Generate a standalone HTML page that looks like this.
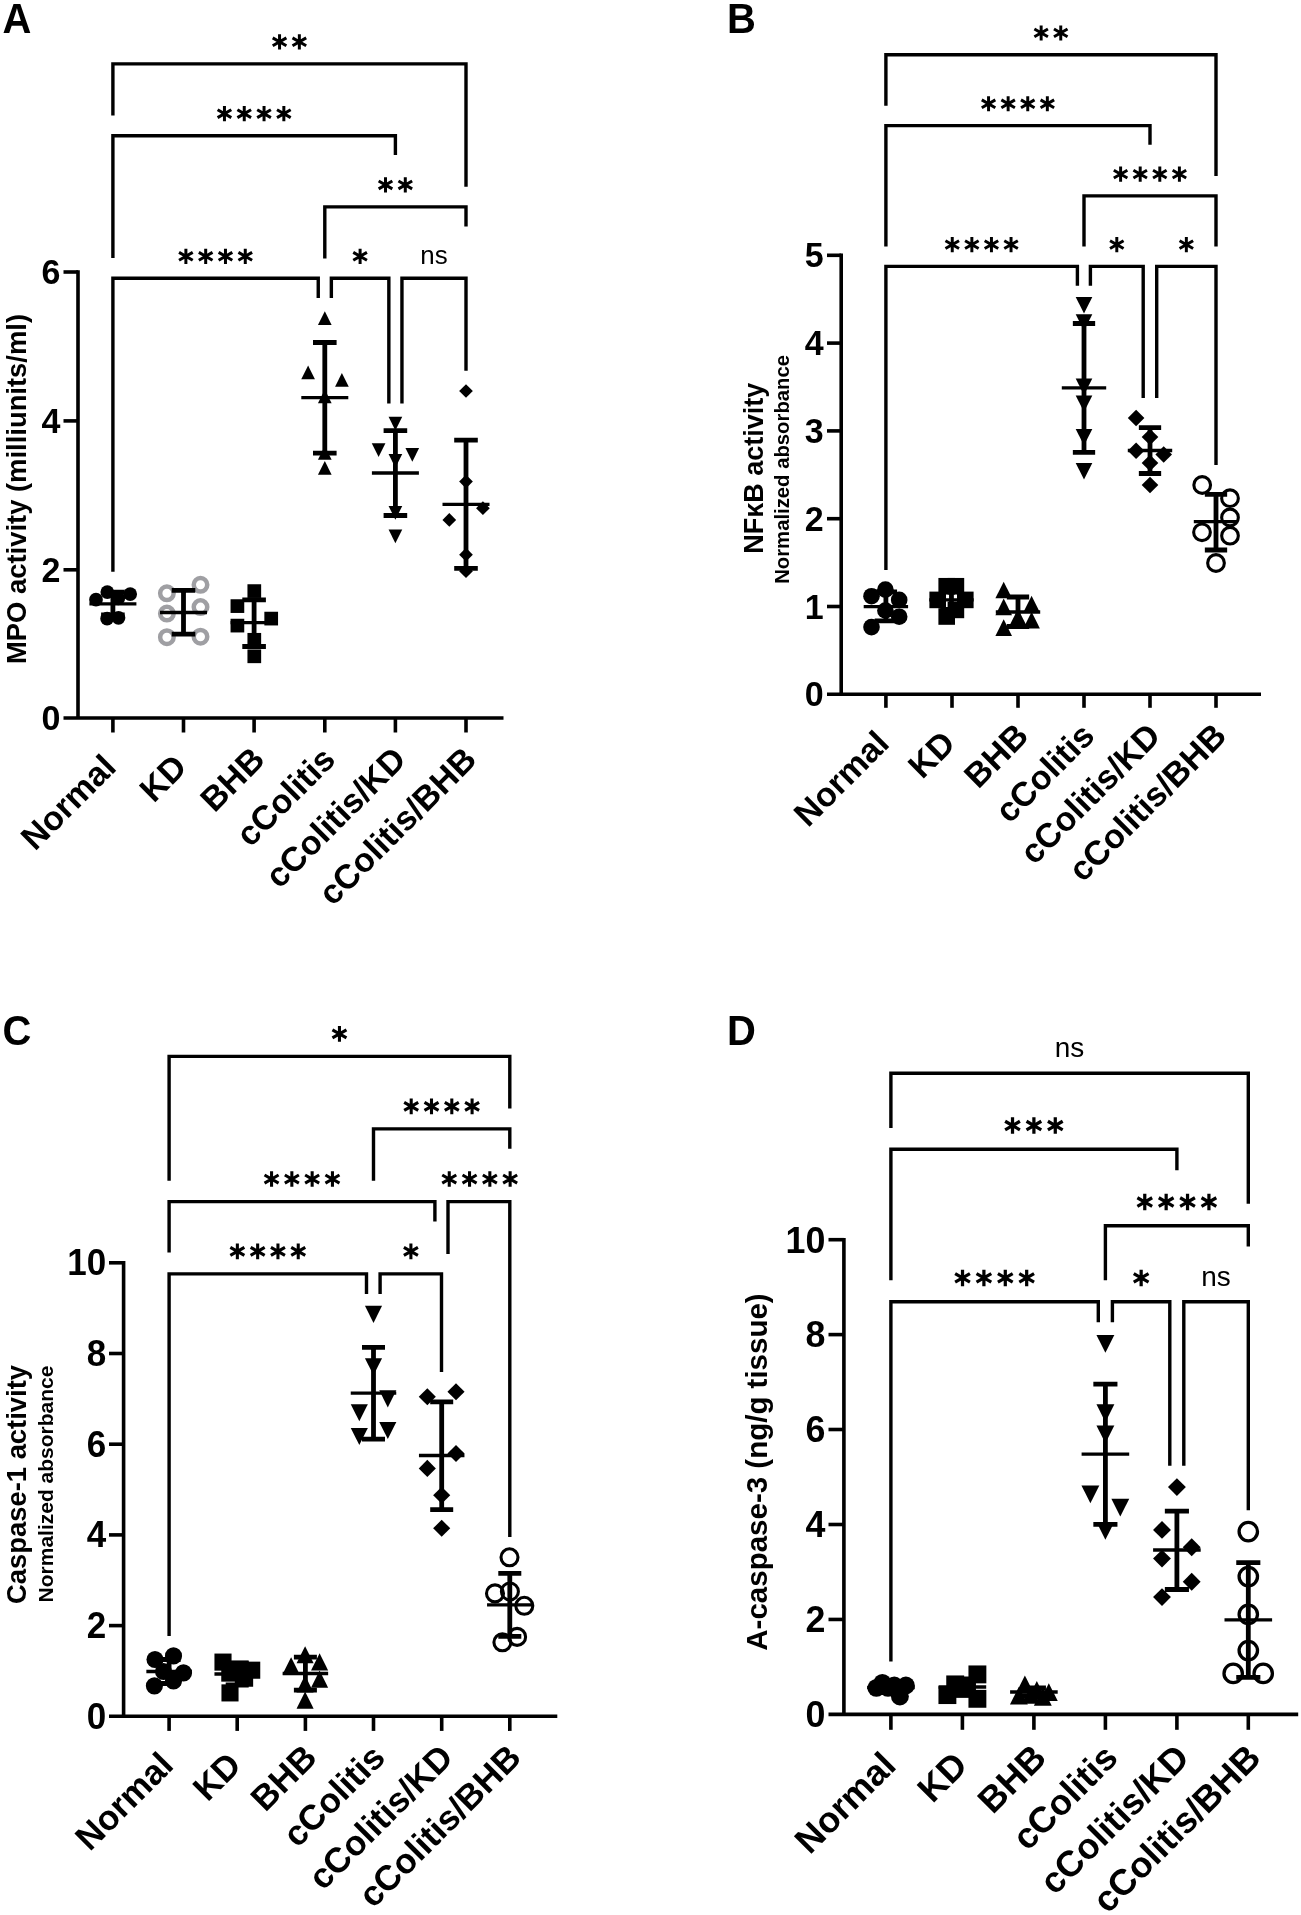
<!DOCTYPE html>
<html><head><meta charset="utf-8"><title>Figure</title>
<style>
html,body{margin:0;padding:0;background:#fff;}
body{width:1301px;height:1915px;overflow:hidden;font-family:"Liberation Sans",sans-serif;}
svg{display:block;font-family:"Liberation Sans",sans-serif;}
svg text{fill:#000;}
svg{will-change:transform;}
</style></head><body>
<svg width="1301" height="1915" viewBox="0 0 1301 1915">
<rect width="1301" height="1915" fill="#fff"/>
<g id="A">
<text transform="translate(2.5,32.5) scale(1,1.045)" font-size="40" font-weight="bold">A</text>
<polyline points="112.9,115.6 112.9,63.85 466,63.85 466,186.8" fill="none" stroke="#000" stroke-width="3.4" stroke-linejoin="miter"/>
<path d="M279.55,34.25V49.45M272.71,37.9L286.39,45.8M272.71,45.8L286.39,37.9" stroke="#000" stroke-width="3" fill="none"/>
<path d="M299.35,34.25V49.45M292.51,37.9L306.19,45.8M292.51,45.8L306.19,37.9" stroke="#000" stroke-width="3" fill="none"/>
<polyline points="112.9,258 112.9,135.7 395.4,135.7 395.4,155" fill="none" stroke="#000" stroke-width="3.4" stroke-linejoin="miter"/>
<path d="M224.45,106.1V121.3M217.61,109.75L231.29,117.65M217.61,117.65L231.29,109.75" stroke="#000" stroke-width="3" fill="none"/>
<path d="M244.25,106.1V121.3M237.41,109.75L251.09,117.65M237.41,117.65L251.09,109.75" stroke="#000" stroke-width="3" fill="none"/>
<path d="M264.05,106.1V121.3M257.21,109.75L270.89,117.65M257.21,117.65L270.89,109.75" stroke="#000" stroke-width="3" fill="none"/>
<path d="M283.85,106.1V121.3M277.01,109.75L290.69,117.65M277.01,117.65L290.69,109.75" stroke="#000" stroke-width="3" fill="none"/>
<polyline points="324.8,258.5 324.8,206.9 466,206.9 466,226.4" fill="none" stroke="#000" stroke-width="3.4" stroke-linejoin="miter"/>
<path d="M385.5,177.3V192.5M378.66,180.95L392.34,188.85M378.66,188.85L392.34,180.95" stroke="#000" stroke-width="3" fill="none"/>
<path d="M405.3,177.3V192.5M398.46,180.95L412.14,188.85M398.46,188.85L412.14,180.95" stroke="#000" stroke-width="3" fill="none"/>
<polyline points="112.9,571.8 112.9,278.3 318.25,278.3 318.25,297.9" fill="none" stroke="#000" stroke-width="3.4" stroke-linejoin="miter"/>
<path d="M185.88,248.7V263.9M179.03,252.35L192.72,260.25M179.03,260.25L192.72,252.35" stroke="#000" stroke-width="3" fill="none"/>
<path d="M205.68,248.7V263.9M198.83,252.35L212.52,260.25M198.83,260.25L212.52,252.35" stroke="#000" stroke-width="3" fill="none"/>
<path d="M225.47,248.7V263.9M218.63,252.35L232.32,260.25M218.63,260.25L232.32,252.35" stroke="#000" stroke-width="3" fill="none"/>
<path d="M245.28,248.7V263.9M238.43,252.35L252.12,260.25M238.43,260.25L252.12,252.35" stroke="#000" stroke-width="3" fill="none"/>
<polyline points="331.35,297.9 331.35,278.3 388.85,278.3 388.85,403.6" fill="none" stroke="#000" stroke-width="3.4" stroke-linejoin="miter"/>
<path d="M360.1,248.7V263.9M353.26,252.35L366.94,260.25M353.26,260.25L366.94,252.35" stroke="#000" stroke-width="3" fill="none"/>
<polyline points="401.95,403.6 401.95,278.3 466,278.3 466,370.8" fill="none" stroke="#000" stroke-width="3.4" stroke-linejoin="miter"/>
<text x="433.98" y="263.5" font-size="25.9" text-anchor="middle">ns</text>
<path d="M78,270.2V718M63.5,718H503.5" stroke="#000" stroke-width="3.6" fill="none"/>
<path d="M63.5,272H78" stroke="#000" stroke-width="3.6"/>
<text transform="translate(60.5,284.17) scale(1,1.042)" font-size="34" font-weight="bold" text-anchor="end">6</text>
<path d="M63.5,420.9H78" stroke="#000" stroke-width="3.6"/>
<text transform="translate(60.5,433.07) scale(1,1.042)" font-size="34" font-weight="bold" text-anchor="end">4</text>
<path d="M63.5,569.8H78" stroke="#000" stroke-width="3.6"/>
<text transform="translate(60.5,581.97) scale(1,1.042)" font-size="34" font-weight="bold" text-anchor="end">2</text>
<text transform="translate(60.5,730.17) scale(1,1.042)" font-size="34" font-weight="bold" text-anchor="end">0</text>
<path d="M112.9,718V732.5" stroke="#000" stroke-width="3.6"/>
<path d="M183.5,718V732.5" stroke="#000" stroke-width="3.6"/>
<path d="M254.1,718V732.5" stroke="#000" stroke-width="3.6"/>
<path d="M324.8,718V732.5" stroke="#000" stroke-width="3.6"/>
<path d="M395.4,718V732.5" stroke="#000" stroke-width="3.6"/>
<path d="M466,718V732.5" stroke="#000" stroke-width="3.6"/>
<text transform="translate(117.9,769) rotate(-45)" font-size="34" font-weight="bold" text-anchor="end">Normal</text>
<text transform="translate(188.5,769) rotate(-45)" font-size="34" font-weight="bold" text-anchor="end">KD</text>
<text transform="translate(266.5,761.4) rotate(-45)" font-size="34" font-weight="bold" text-anchor="end">BHB</text>
<text transform="translate(337.2,761.4) rotate(-45)" font-size="34" font-weight="bold" text-anchor="end">cColitis</text>
<text transform="translate(407.8,761.4) rotate(-45)" font-size="34" font-weight="bold" text-anchor="end">cColitis/KD</text>
<text transform="translate(478.4,761.4) rotate(-45)" font-size="34" font-weight="bold" text-anchor="end">cColitis/BHB</text>
<text transform="translate(25.5,489) rotate(-90)" font-size="27.4" font-weight="bold" text-anchor="middle">MPO activity (milliunits/ml)</text>
<circle cx="107.3" cy="592.1" r="6.85" fill="#000"/>
<circle cx="130.2" cy="594.1" r="6.85" fill="#000"/>
<circle cx="96" cy="599.7" r="6.85" fill="#000"/>
<circle cx="118.3" cy="598.3" r="6.85" fill="#000"/>
<circle cx="107.1" cy="618.7" r="6.85" fill="#000"/>
<circle cx="118.5" cy="617.8" r="6.85" fill="#000"/>
<path d="M112.9,592.1V614.9M101.1,592.1H124.7M101.1,614.9H124.7" stroke="#000" stroke-width="4.8" fill="none"/>
<path d="M89.4,603.8H136.4" stroke="#000" stroke-width="3.3" fill="none"/>
<circle cx="200.5" cy="584.8" r="6.75" fill="none" stroke="#9f9fa3" stroke-width="4.5"/>
<circle cx="166.9" cy="593.3" r="6.75" fill="none" stroke="#9f9fa3" stroke-width="4.5"/>
<circle cx="200.5" cy="607.1" r="6.75" fill="none" stroke="#9f9fa3" stroke-width="4.5"/>
<circle cx="166.9" cy="613.6" r="6.75" fill="none" stroke="#9f9fa3" stroke-width="4.5"/>
<circle cx="166.9" cy="637.2" r="6.75" fill="none" stroke="#9f9fa3" stroke-width="4.5"/>
<circle cx="200.5" cy="636.7" r="6.75" fill="none" stroke="#9f9fa3" stroke-width="4.5"/>
<path d="M183.5,590.3V634.2M171.7,590.3H195.3M171.7,634.2H195.3" stroke="#000" stroke-width="4.8" fill="none"/>
<path d="M160,612.5H207" stroke="#000" stroke-width="3.3" fill="none"/>
<rect x="247.45" y="584.25" width="13.7" height="13.7" fill="#000"/>
<rect x="230.55" y="599.25" width="13.7" height="13.7" fill="#000"/>
<rect x="264.35" y="611.75" width="13.7" height="13.7" fill="#000"/>
<rect x="230.55" y="618.75" width="13.7" height="13.7" fill="#000"/>
<rect x="247.45" y="632.95" width="13.7" height="13.7" fill="#000"/>
<rect x="247.45" y="649.45" width="13.7" height="13.7" fill="#000"/>
<path d="M254.1,599.8V646.5M242.3,599.8H265.9M242.3,646.5H265.9" stroke="#000" stroke-width="4.8" fill="none"/>
<path d="M230.6,622.7H277.6" stroke="#000" stroke-width="3.3" fill="none"/>
<path d="M324.8,311.35L331.65,325.05H317.95Z" fill="#000"/>
<path d="M308.1,365.55L314.95,379.25H301.25Z" fill="#000"/>
<path d="M341.9,372.95L348.75,386.65H335.05Z" fill="#000"/>
<path d="M324.8,389.55L331.65,403.25H317.95Z" fill="#000"/>
<path d="M324.8,446.05L331.65,459.75H317.95Z" fill="#000"/>
<path d="M324.8,460.95L331.65,474.65H317.95Z" fill="#000"/>
<path d="M324.8,342.5V453.1M313,342.5H336.6M313,453.1H336.6" stroke="#000" stroke-width="4.8" fill="none"/>
<path d="M301.3,397.7H348.3" stroke="#000" stroke-width="3.3" fill="none"/>
<path d="M395.4,430.45L402.25,416.75H388.55Z" fill="#000"/>
<path d="M378.6,457.05L385.45,443.35H371.75Z" fill="#000"/>
<path d="M412.3,461.75L419.15,448.05H405.45Z" fill="#000"/>
<path d="M395.4,467.75L402.25,454.05H388.55Z" fill="#000"/>
<path d="M395.4,519.65L402.25,505.95H388.55Z" fill="#000"/>
<path d="M395.4,543.25L402.25,529.55H388.55Z" fill="#000"/>
<path d="M395.4,430.6V515.5M383.6,430.6H407.2M383.6,515.5H407.2" stroke="#000" stroke-width="4.8" fill="none"/>
<path d="M371.9,473H418.9" stroke="#000" stroke-width="3.3" fill="none"/>
<path d="M466,384.15L472.85,391L466,397.85L459.15,391Z" fill="#000"/>
<path d="M466,474.75L472.85,481.6L466,488.45L459.15,481.6Z" fill="#000"/>
<path d="M482.9,501.35L489.75,508.2L482.9,515.05L476.05,508.2Z" fill="#000"/>
<path d="M449.3,513.05L456.15,519.9L449.3,526.75L442.45,519.9Z" fill="#000"/>
<path d="M466,547.85L472.85,554.7L466,561.55L459.15,554.7Z" fill="#000"/>
<path d="M466,564.35L472.85,571.2L466,578.05L459.15,571.2Z" fill="#000"/>
<path d="M466,440.2V568.4M454.2,440.2H477.8M454.2,568.4H477.8" stroke="#000" stroke-width="4.8" fill="none"/>
<path d="M442.5,504.3H489.5" stroke="#000" stroke-width="3.3" fill="none"/>
</g>
<g id="B">
<text transform="translate(726.9,32.5) scale(1,1.045)" font-size="40" font-weight="bold">B</text>
<polyline points="885.9,105.8 885.9,54.7 1216,54.7 1216,175.9" fill="none" stroke="#000" stroke-width="3.4" stroke-linejoin="miter"/>
<path d="M1041.15,25.4V40.44M1034.38,29.01L1047.92,36.83M1034.38,36.83L1047.92,29.01" stroke="#000" stroke-width="2.97" fill="none"/>
<path d="M1060.75,25.4V40.44M1053.98,29.01L1067.52,36.83M1053.98,36.83L1067.52,29.01" stroke="#000" stroke-width="2.97" fill="none"/>
<polyline points="885.9,246.4 885.9,125.6 1150,125.6 1150,144.8" fill="none" stroke="#000" stroke-width="3.4" stroke-linejoin="miter"/>
<path d="M988.55,96.3V111.34M981.77,99.91L995.32,107.73M981.77,107.73L995.32,99.91" stroke="#000" stroke-width="2.97" fill="none"/>
<path d="M1008.15,96.3V111.34M1001.38,99.91L1014.92,107.73M1001.38,107.73L1014.92,99.91" stroke="#000" stroke-width="2.97" fill="none"/>
<path d="M1027.75,96.3V111.34M1020.98,99.91L1034.52,107.73M1020.98,107.73L1034.52,99.91" stroke="#000" stroke-width="2.97" fill="none"/>
<path d="M1047.35,96.3V111.34M1040.58,99.91L1054.13,107.73M1040.58,107.73L1054.13,99.91" stroke="#000" stroke-width="2.97" fill="none"/>
<polyline points="1084,246.4 1084,195.9 1216,195.9 1216,246.4" fill="none" stroke="#000" stroke-width="3.4" stroke-linejoin="miter"/>
<path d="M1120.6,166.6V181.64M1113.82,170.21L1127.37,178.03M1113.82,178.03L1127.37,170.21" stroke="#000" stroke-width="2.97" fill="none"/>
<path d="M1140.2,166.6V181.64M1133.43,170.21L1146.97,178.03M1133.43,178.03L1146.97,170.21" stroke="#000" stroke-width="2.97" fill="none"/>
<path d="M1159.8,166.6V181.64M1153.03,170.21L1166.57,178.03M1153.03,178.03L1166.57,170.21" stroke="#000" stroke-width="2.97" fill="none"/>
<path d="M1179.4,166.6V181.64M1172.63,170.21L1186.18,178.03M1172.63,178.03L1186.18,170.21" stroke="#000" stroke-width="2.97" fill="none"/>
<polyline points="885.9,570 885.9,266.4 1077.4,266.4 1077.4,285.8" fill="none" stroke="#000" stroke-width="3.4" stroke-linejoin="miter"/>
<path d="M952.25,237.1V252.14M945.47,240.71L959.02,248.53M945.47,248.53L959.02,240.71" stroke="#000" stroke-width="2.97" fill="none"/>
<path d="M971.85,237.1V252.14M965.08,240.71L978.62,248.53M965.08,248.53L978.62,240.71" stroke="#000" stroke-width="2.97" fill="none"/>
<path d="M991.45,237.1V252.14M984.68,240.71L998.22,248.53M984.68,248.53L998.22,240.71" stroke="#000" stroke-width="2.97" fill="none"/>
<path d="M1011.05,237.1V252.14M1004.28,240.71L1017.83,248.53M1004.28,248.53L1017.83,240.71" stroke="#000" stroke-width="2.97" fill="none"/>
<polyline points="1090.4,285.8 1090.4,266.4 1143.2,266.4 1143.2,397.9" fill="none" stroke="#000" stroke-width="3.4" stroke-linejoin="miter"/>
<path d="M1116.8,237.1V252.14M1110.03,240.71L1123.57,248.53M1110.03,248.53L1123.57,240.71" stroke="#000" stroke-width="2.97" fill="none"/>
<polyline points="1156.7,397.9 1156.7,266.4 1216,266.4 1216,465.1" fill="none" stroke="#000" stroke-width="3.4" stroke-linejoin="miter"/>
<path d="M1186.35,237.1V252.14M1179.58,240.71L1193.12,248.53M1179.58,248.53L1193.12,240.71" stroke="#000" stroke-width="2.97" fill="none"/>
<path d="M841.2,253.5V694.3M827,694.3H1261" stroke="#000" stroke-width="3.6" fill="none"/>
<path d="M827,255.3H841.2" stroke="#000" stroke-width="3.6"/>
<text transform="translate(823.7,267.47) scale(1,1.042)" font-size="34" font-weight="bold" text-anchor="end">5</text>
<path d="M827,343.1H841.2" stroke="#000" stroke-width="3.6"/>
<text transform="translate(823.7,355.27) scale(1,1.042)" font-size="34" font-weight="bold" text-anchor="end">4</text>
<path d="M827,430.9H841.2" stroke="#000" stroke-width="3.6"/>
<text transform="translate(823.7,443.07) scale(1,1.042)" font-size="34" font-weight="bold" text-anchor="end">3</text>
<path d="M827,518.7H841.2" stroke="#000" stroke-width="3.6"/>
<text transform="translate(823.7,530.87) scale(1,1.042)" font-size="34" font-weight="bold" text-anchor="end">2</text>
<path d="M827,606.5H841.2" stroke="#000" stroke-width="3.6"/>
<text transform="translate(823.7,618.67) scale(1,1.042)" font-size="34" font-weight="bold" text-anchor="end">1</text>
<text transform="translate(823.7,706.47) scale(1,1.042)" font-size="34" font-weight="bold" text-anchor="end">0</text>
<path d="M885.9,694.3V707.8" stroke="#000" stroke-width="3.6"/>
<path d="M952,694.3V707.8" stroke="#000" stroke-width="3.6"/>
<path d="M1018,694.3V707.8" stroke="#000" stroke-width="3.6"/>
<path d="M1084,694.3V707.8" stroke="#000" stroke-width="3.6"/>
<path d="M1150,694.3V707.8" stroke="#000" stroke-width="3.6"/>
<path d="M1216,694.3V707.8" stroke="#000" stroke-width="3.6"/>
<text transform="translate(890.9,745.3) rotate(-45)" font-size="34" font-weight="bold" text-anchor="end">Normal</text>
<text transform="translate(957,745.3) rotate(-45)" font-size="34" font-weight="bold" text-anchor="end">KD</text>
<text transform="translate(1030.4,737.7) rotate(-45)" font-size="34" font-weight="bold" text-anchor="end">BHB</text>
<text transform="translate(1096.4,737.7) rotate(-45)" font-size="34" font-weight="bold" text-anchor="end">cColitis</text>
<text transform="translate(1162.4,737.7) rotate(-45)" font-size="34" font-weight="bold" text-anchor="end">cColitis/KD</text>
<text transform="translate(1228.4,737.7) rotate(-45)" font-size="34" font-weight="bold" text-anchor="end">cColitis/BHB</text>
<text transform="translate(762.6,468.3) rotate(-90)" font-size="27" font-weight="bold" text-anchor="middle">NFκB activity</text>
<text transform="translate(789,469.4) rotate(-90)" font-size="20.3" font-weight="bold" text-anchor="middle">Normalized absorbance</text>
<circle cx="885.4" cy="589.6" r="8.3" fill="#000"/>
<circle cx="871.5" cy="596.2" r="8.3" fill="#000"/>
<circle cx="899.2" cy="599.9" r="8.3" fill="#000"/>
<circle cx="885.4" cy="610.5" r="8.3" fill="#000"/>
<circle cx="899.2" cy="616.7" r="8.3" fill="#000"/>
<circle cx="871.5" cy="627.1" r="8.3" fill="#000"/>
<path d="M885.9,592V620.9M874.75,592H897.05M874.75,620.9H897.05" stroke="#000" stroke-width="4.8" fill="none"/>
<path d="M863.7,606.6H908.1" stroke="#000" stroke-width="3.3" fill="none"/>
<rect x="938.4" y="577.95" width="16.6" height="16.6" fill="#000"/>
<rect x="947.6" y="577.95" width="16.6" height="16.6" fill="#000"/>
<rect x="929.4" y="591.6" width="16.6" height="16.6" fill="#000"/>
<rect x="957" y="591.6" width="16.6" height="16.6" fill="#000"/>
<rect x="947.6" y="601.6" width="16.6" height="16.6" fill="#000"/>
<rect x="938.4" y="608.2" width="16.6" height="16.6" fill="#000"/>
<path d="M951.45,590.4V609.4M940.3,590.4H962.6M940.3,609.4H962.6" stroke="#000" stroke-width="4.8" fill="none"/>
<path d="M929.25,599.9H973.65" stroke="#000" stroke-width="3.3" fill="none"/>
<path d="M1003.7,581.7L1012,598.3H995.4Z" fill="#000"/>
<path d="M1031.6,595.8L1039.9,612.4H1023.3Z" fill="#000"/>
<path d="M1003.7,598.6L1012,615.2H995.4Z" fill="#000"/>
<path d="M1031.6,611.8L1039.9,628.4H1023.3Z" fill="#000"/>
<path d="M1018,608.7L1026.3,625.3H1009.7Z" fill="#000"/>
<path d="M1003.7,619.3L1012,635.9H995.4Z" fill="#000"/>
<path d="M1018,597V626.5M1006.85,597H1029.15M1006.85,626.5H1029.15" stroke="#000" stroke-width="4.8" fill="none"/>
<path d="M995.8,612H1040.2" stroke="#000" stroke-width="3.3" fill="none"/>
<path d="M1084,313.5L1092.3,296.9H1075.7Z" fill="#000"/>
<path d="M1084,330.8L1092.3,314.2H1075.7Z" fill="#000"/>
<path d="M1084,395.1L1092.3,378.5H1075.7Z" fill="#000"/>
<path d="M1084,412L1092.3,395.4H1075.7Z" fill="#000"/>
<path d="M1084,445.6L1092.3,429H1075.7Z" fill="#000"/>
<path d="M1084,479.5L1092.3,462.9H1075.7Z" fill="#000"/>
<path d="M1084,323.5V452.4M1072.85,323.5H1095.15M1072.85,452.4H1095.15" stroke="#000" stroke-width="4.8" fill="none"/>
<path d="M1061.8,387.9H1106.2" stroke="#000" stroke-width="3.3" fill="none"/>
<path d="M1136.1,409.7L1144.4,418L1136.1,426.3L1127.8,418Z" fill="#000"/>
<path d="M1150,428.7L1158.3,437L1150,445.3L1141.7,437Z" fill="#000"/>
<path d="M1136.1,442.4L1144.4,450.7L1136.1,459L1127.8,450.7Z" fill="#000"/>
<path d="M1163.7,446.2L1172,454.5L1163.7,462.8L1155.4,454.5Z" fill="#000"/>
<path d="M1150,454.7L1158.3,463L1150,471.3L1141.7,463Z" fill="#000"/>
<path d="M1150,476.7L1158.3,485L1150,493.3L1141.7,485Z" fill="#000"/>
<path d="M1150,427.6V473.5M1138.85,427.6H1161.15M1138.85,473.5H1161.15" stroke="#000" stroke-width="4.8" fill="none"/>
<path d="M1127.8,450.5H1172.2" stroke="#000" stroke-width="3.3" fill="none"/>
<circle cx="1202.2" cy="485" r="8.35" fill="none" stroke="#000" stroke-width="3.1"/>
<circle cx="1230" cy="498.2" r="8.35" fill="none" stroke="#000" stroke-width="3.1"/>
<circle cx="1230" cy="517.5" r="8.35" fill="none" stroke="#000" stroke-width="3.1"/>
<circle cx="1202" cy="532.3" r="8.35" fill="none" stroke="#000" stroke-width="3.1"/>
<circle cx="1230" cy="535.7" r="8.35" fill="none" stroke="#000" stroke-width="3.1"/>
<circle cx="1216" cy="563" r="8.35" fill="none" stroke="#000" stroke-width="3.1"/>
<path d="M1216,494.3V550M1204.85,494.3H1227.15M1204.85,550H1227.15" stroke="#000" stroke-width="4.8" fill="none"/>
<path d="M1193.8,521.6H1238.2" stroke="#000" stroke-width="3.3" fill="none"/>
</g>
<g id="C">
<text transform="translate(2.5,1045) scale(1,1.045)" font-size="40" font-weight="bold">C</text>
<polyline points="169.1,1180.8 169.1,1056.4 509.8,1056.4 509.8,1108.6" fill="none" stroke="#000" stroke-width="3.4" stroke-linejoin="miter"/>
<path d="M339.45,1026.06V1041.64M332.44,1029.8L346.46,1037.9M332.44,1037.9L346.46,1029.8" stroke="#000" stroke-width="3.07" fill="none"/>
<polyline points="373.5,1180.8 373.5,1128.9 509.8,1128.9 509.8,1148.7" fill="none" stroke="#000" stroke-width="3.4" stroke-linejoin="miter"/>
<path d="M411.21,1098.56V1114.14M404.19,1102.3L418.22,1110.4M404.19,1110.4L418.22,1102.3" stroke="#000" stroke-width="3.07" fill="none"/>
<path d="M431.5,1098.56V1114.14M424.49,1102.3L438.52,1110.4M424.49,1110.4L438.52,1102.3" stroke="#000" stroke-width="3.07" fill="none"/>
<path d="M451.8,1098.56V1114.14M444.78,1102.3L458.81,1110.4M444.78,1110.4L458.81,1102.3" stroke="#000" stroke-width="3.07" fill="none"/>
<path d="M472.09,1098.56V1114.14M465.08,1102.3L479.11,1110.4M465.08,1110.4L479.11,1102.3" stroke="#000" stroke-width="3.07" fill="none"/>
<polyline points="169.1,1252.5 169.1,1201.6 434.9,1201.6 434.9,1221.4" fill="none" stroke="#000" stroke-width="3.4" stroke-linejoin="miter"/>
<path d="M271.56,1171.26V1186.84M264.54,1175L278.57,1183.1M264.54,1183.1L278.57,1175" stroke="#000" stroke-width="3.07" fill="none"/>
<path d="M291.85,1171.26V1186.84M284.84,1175L298.87,1183.1M284.84,1183.1L298.87,1175" stroke="#000" stroke-width="3.07" fill="none"/>
<path d="M312.15,1171.26V1186.84M305.13,1175L319.16,1183.1M305.13,1183.1L319.16,1175" stroke="#000" stroke-width="3.07" fill="none"/>
<path d="M332.44,1171.26V1186.84M325.43,1175L339.46,1183.1M325.43,1183.1L339.46,1175" stroke="#000" stroke-width="3.07" fill="none"/>
<polyline points="448,1253.9 448,1201.6 509.8,1201.6 509.8,1536.9" fill="none" stroke="#000" stroke-width="3.4" stroke-linejoin="miter"/>
<path d="M449.26,1171.26V1186.84M442.24,1175L456.27,1183.1M442.24,1183.1L456.27,1175" stroke="#000" stroke-width="3.07" fill="none"/>
<path d="M469.55,1171.26V1186.84M462.54,1175L476.57,1183.1M462.54,1183.1L476.57,1175" stroke="#000" stroke-width="3.07" fill="none"/>
<path d="M489.85,1171.26V1186.84M482.83,1175L496.86,1183.1M482.83,1183.1L496.86,1175" stroke="#000" stroke-width="3.07" fill="none"/>
<path d="M510.14,1171.26V1186.84M503.13,1175L517.16,1183.1M503.13,1183.1L517.16,1175" stroke="#000" stroke-width="3.07" fill="none"/>
<polyline points="169.1,1636 169.1,1273.9 366.5,1273.9 366.5,1294.1" fill="none" stroke="#000" stroke-width="3.4" stroke-linejoin="miter"/>
<path d="M237.36,1243.56V1259.14M230.34,1247.3L244.37,1255.4M230.34,1255.4L244.37,1247.3" stroke="#000" stroke-width="3.07" fill="none"/>
<path d="M257.65,1243.56V1259.14M250.64,1247.3L264.67,1255.4M250.64,1255.4L264.67,1247.3" stroke="#000" stroke-width="3.07" fill="none"/>
<path d="M277.95,1243.56V1259.14M270.93,1247.3L284.96,1255.4M270.93,1255.4L284.96,1247.3" stroke="#000" stroke-width="3.07" fill="none"/>
<path d="M298.24,1243.56V1259.14M291.23,1247.3L305.26,1255.4M291.23,1255.4L305.26,1247.3" stroke="#000" stroke-width="3.07" fill="none"/>
<polyline points="380.1,1294.1 380.1,1273.9 441.5,1273.9 441.5,1371.9" fill="none" stroke="#000" stroke-width="3.4" stroke-linejoin="miter"/>
<path d="M410.9,1243.56V1259.14M403.89,1247.3L417.91,1255.4M403.89,1255.4L417.91,1247.3" stroke="#000" stroke-width="3.07" fill="none"/>
<path d="M123.6,1261V1716.3M109,1716.3H557.3" stroke="#000" stroke-width="3.6" fill="none"/>
<path d="M109,1262.8H123.6" stroke="#000" stroke-width="3.6"/>
<text transform="translate(106.1,1275.33) scale(1,1.042)" font-size="35" font-weight="bold" text-anchor="end">10</text>
<path d="M109,1353.5H123.6" stroke="#000" stroke-width="3.6"/>
<text transform="translate(106.1,1366.03) scale(1,1.042)" font-size="35" font-weight="bold" text-anchor="end">8</text>
<path d="M109,1444.2H123.6" stroke="#000" stroke-width="3.6"/>
<text transform="translate(106.1,1456.73) scale(1,1.042)" font-size="35" font-weight="bold" text-anchor="end">6</text>
<path d="M109,1534.9H123.6" stroke="#000" stroke-width="3.6"/>
<text transform="translate(106.1,1547.43) scale(1,1.042)" font-size="35" font-weight="bold" text-anchor="end">4</text>
<path d="M109,1625.6H123.6" stroke="#000" stroke-width="3.6"/>
<text transform="translate(106.1,1638.13) scale(1,1.042)" font-size="35" font-weight="bold" text-anchor="end">2</text>
<text transform="translate(106.1,1728.83) scale(1,1.042)" font-size="35" font-weight="bold" text-anchor="end">0</text>
<path d="M169.1,1716.3V1730.9" stroke="#000" stroke-width="3.6"/>
<path d="M237.2,1716.3V1730.9" stroke="#000" stroke-width="3.6"/>
<path d="M305.4,1716.3V1730.9" stroke="#000" stroke-width="3.6"/>
<path d="M373.5,1716.3V1730.9" stroke="#000" stroke-width="3.6"/>
<path d="M441.7,1716.3V1730.9" stroke="#000" stroke-width="3.6"/>
<path d="M509.8,1716.3V1730.9" stroke="#000" stroke-width="3.6"/>
<text transform="translate(175.1,1767) rotate(-45)" font-size="35" font-weight="bold" text-anchor="end">Normal</text>
<text transform="translate(243.2,1767) rotate(-45)" font-size="35" font-weight="bold" text-anchor="end">KD</text>
<text transform="translate(318.8,1759.4) rotate(-45)" font-size="35" font-weight="bold" text-anchor="end">BHB</text>
<text transform="translate(386.9,1759.4) rotate(-45)" font-size="35" font-weight="bold" text-anchor="end">cColitis</text>
<text transform="translate(455.1,1759.4) rotate(-45)" font-size="35" font-weight="bold" text-anchor="end">cColitis/KD</text>
<text transform="translate(523.2,1759.4) rotate(-45)" font-size="35" font-weight="bold" text-anchor="end">cColitis/BHB</text>
<text transform="translate(26.4,1484.5) rotate(-90)" font-size="27.4" font-weight="bold" text-anchor="middle">Caspase-1 activity</text>
<text transform="translate(53,1484) rotate(-90)" font-size="21" font-weight="bold" text-anchor="middle">Normalized absorbance</text>
<circle cx="155" cy="1659.5" r="8.55" fill="#000"/>
<circle cx="173.5" cy="1655.9" r="8.55" fill="#000"/>
<circle cx="183.5" cy="1672.9" r="8.55" fill="#000"/>
<circle cx="163.5" cy="1671.5" r="8.55" fill="#000"/>
<circle cx="173.5" cy="1680.9" r="8.55" fill="#000"/>
<circle cx="154.4" cy="1685.9" r="8.55" fill="#000"/>
<path d="M169.1,1659.5V1683.5M157.6,1659.5H180.6M157.6,1683.5H180.6" stroke="#000" stroke-width="4.8" fill="none"/>
<path d="M146.35,1671.5H191.85" stroke="#000" stroke-width="3.3" fill="none"/>
<rect x="214.45" y="1653.55" width="17.1" height="17.1" fill="#000"/>
<rect x="231.35" y="1660.85" width="17.1" height="17.1" fill="#000"/>
<rect x="243.15" y="1661.65" width="17.1" height="17.1" fill="#000"/>
<rect x="221.25" y="1664.55" width="17.1" height="17.1" fill="#000"/>
<rect x="236.05" y="1669.65" width="17.1" height="17.1" fill="#000"/>
<rect x="221.45" y="1684.35" width="17.1" height="17.1" fill="#000"/>
<path d="M237.2,1663V1685M225.7,1663H248.7M225.7,1685H248.7" stroke="#000" stroke-width="4.8" fill="none"/>
<path d="M214.45,1674H259.95" stroke="#000" stroke-width="3.3" fill="none"/>
<path d="M305.1,1646.15L313.65,1663.25H296.55Z" fill="#000"/>
<path d="M291.1,1657.15L299.65,1674.25H282.55Z" fill="#000"/>
<path d="M319.6,1653.35L328.15,1670.45H311.05Z" fill="#000"/>
<path d="M319.6,1670.55L328.15,1687.65H311.05Z" fill="#000"/>
<path d="M305,1675.35L313.55,1692.45H296.45Z" fill="#000"/>
<path d="M305.1,1691.55L313.65,1708.65H296.55Z" fill="#000"/>
<path d="M305.4,1657.2V1690.2M293.9,1657.2H316.9M293.9,1690.2H316.9" stroke="#000" stroke-width="4.8" fill="none"/>
<path d="M282.65,1673.5H328.15" stroke="#000" stroke-width="3.3" fill="none"/>
<path d="M373.5,1322.95L382.05,1305.85H364.95Z" fill="#000"/>
<path d="M373.5,1375.35L382.05,1358.25H364.95Z" fill="#000"/>
<path d="M387.8,1407.45L396.35,1390.35H379.25Z" fill="#000"/>
<path d="M359.3,1421.35L367.85,1404.25H350.75Z" fill="#000"/>
<path d="M387.8,1439.05L396.35,1421.95H379.25Z" fill="#000"/>
<path d="M359.3,1445.05L367.85,1427.95H350.75Z" fill="#000"/>
<path d="M373.5,1347.3V1439.2M362,1347.3H385M362,1439.2H385" stroke="#000" stroke-width="4.8" fill="none"/>
<path d="M350.75,1393.2H396.25" stroke="#000" stroke-width="3.3" fill="none"/>
<path d="M427.3,1388.15L435.85,1396.7L427.3,1405.25L418.75,1396.7Z" fill="#000"/>
<path d="M456,1383.25L464.55,1391.8L456,1400.35L447.45,1391.8Z" fill="#000"/>
<path d="M456,1444.95L464.55,1453.5L456,1462.05L447.45,1453.5Z" fill="#000"/>
<path d="M427.3,1459.85L435.85,1468.4L427.3,1476.95L418.75,1468.4Z" fill="#000"/>
<path d="M441.7,1486.65L450.25,1495.2L441.7,1503.75L433.15,1495.2Z" fill="#000"/>
<path d="M441.7,1519.75L450.25,1528.3L441.7,1536.85L433.15,1528.3Z" fill="#000"/>
<path d="M441.7,1401.8V1509.7M430.2,1401.8H453.2M430.2,1509.7H453.2" stroke="#000" stroke-width="4.8" fill="none"/>
<path d="M418.95,1455.5H464.45" stroke="#000" stroke-width="3.3" fill="none"/>
<circle cx="509.5" cy="1557.3" r="8.5" fill="none" stroke="#000" stroke-width="3.1"/>
<circle cx="495" cy="1593.4" r="8.5" fill="none" stroke="#000" stroke-width="3.1"/>
<circle cx="509.9" cy="1591.5" r="8.5" fill="none" stroke="#000" stroke-width="3.1"/>
<circle cx="524.3" cy="1605.8" r="8.5" fill="none" stroke="#000" stroke-width="3.1"/>
<circle cx="517.1" cy="1636.9" r="8.5" fill="none" stroke="#000" stroke-width="3.1"/>
<circle cx="502.4" cy="1642.3" r="8.5" fill="none" stroke="#000" stroke-width="3.1"/>
<path d="M509.8,1573.4V1636.3M498.3,1573.4H521.3M498.3,1636.3H521.3" stroke="#000" stroke-width="4.8" fill="none"/>
<path d="M487.05,1604.8H532.55" stroke="#000" stroke-width="3.3" fill="none"/>
</g>
<g id="D">
<text transform="translate(726.9,1045.3) scale(1,1.045)" font-size="40" font-weight="bold">D</text>
<polyline points="890.9,1127.9 890.9,1073.2 1248.3,1073.2 1248.3,1203.8" fill="none" stroke="#000" stroke-width="3.4" stroke-linejoin="miter"/>
<text x="1069.6" y="1057.22" font-size="27.97" text-anchor="middle">ns</text>
<polyline points="890.9,1280.2 890.9,1149.3 1176.9,1149.3 1176.9,1170.2" fill="none" stroke="#000" stroke-width="3.4" stroke-linejoin="miter"/>
<path d="M1012.52,1117.33V1133.75M1005.13,1121.27L1019.9,1129.81M1005.13,1129.81L1019.9,1121.27" stroke="#000" stroke-width="3.24" fill="none"/>
<path d="M1033.9,1117.33V1133.75M1026.51,1121.27L1041.29,1129.81M1026.51,1129.81L1041.29,1121.27" stroke="#000" stroke-width="3.24" fill="none"/>
<path d="M1055.28,1117.33V1133.75M1047.9,1121.27L1062.67,1129.81M1047.9,1129.81L1062.67,1121.27" stroke="#000" stroke-width="3.24" fill="none"/>
<polyline points="1105.4,1280.2 1105.4,1225.8 1248.3,1225.8 1248.3,1246.4" fill="none" stroke="#000" stroke-width="3.4" stroke-linejoin="miter"/>
<path d="M1144.77,1193.83V1210.25M1137.39,1197.77L1152.16,1206.31M1137.39,1206.31L1152.16,1197.77" stroke="#000" stroke-width="3.24" fill="none"/>
<path d="M1166.16,1193.83V1210.25M1158.77,1197.77L1173.55,1206.31M1158.77,1206.31L1173.55,1197.77" stroke="#000" stroke-width="3.24" fill="none"/>
<path d="M1187.54,1193.83V1210.25M1180.15,1197.77L1194.93,1206.31M1180.15,1206.31L1194.93,1197.77" stroke="#000" stroke-width="3.24" fill="none"/>
<path d="M1208.93,1193.83V1210.25M1201.54,1197.77L1216.31,1206.31M1201.54,1206.31L1216.31,1197.77" stroke="#000" stroke-width="3.24" fill="none"/>
<polyline points="890.9,1661.5 890.9,1301.7 1098.3,1301.7 1098.3,1322.3" fill="none" stroke="#000" stroke-width="3.4" stroke-linejoin="miter"/>
<path d="M962.52,1269.73V1286.15M955.14,1273.67L969.91,1282.21M955.14,1282.21L969.91,1273.67" stroke="#000" stroke-width="3.24" fill="none"/>
<path d="M983.91,1269.73V1286.15M976.52,1273.67L991.3,1282.21M976.52,1282.21L991.3,1273.67" stroke="#000" stroke-width="3.24" fill="none"/>
<path d="M1005.29,1269.73V1286.15M997.9,1273.67L1012.68,1282.21M997.9,1282.21L1012.68,1273.67" stroke="#000" stroke-width="3.24" fill="none"/>
<path d="M1026.68,1269.73V1286.15M1019.29,1273.67L1034.06,1282.21M1019.29,1282.21L1034.06,1273.67" stroke="#000" stroke-width="3.24" fill="none"/>
<polyline points="1112.4,1322.3 1112.4,1301.7 1169.8,1301.7 1169.8,1465.7" fill="none" stroke="#000" stroke-width="3.4" stroke-linejoin="miter"/>
<path d="M1141.15,1269.73V1286.15M1133.76,1273.67L1148.54,1282.21M1133.76,1282.21L1148.54,1273.67" stroke="#000" stroke-width="3.24" fill="none"/>
<polyline points="1183.8,1465.7 1183.8,1301.7 1248.3,1301.7 1248.3,1510.2" fill="none" stroke="#000" stroke-width="3.4" stroke-linejoin="miter"/>
<text x="1216.05" y="1285.72" font-size="27.97" text-anchor="middle">ns</text>
<path d="M843.9,1237.9V1714.4M828.5,1714.4H1298.2" stroke="#000" stroke-width="3.6" fill="none"/>
<path d="M828.5,1239.7H843.9" stroke="#000" stroke-width="3.6"/>
<text transform="translate(825.4,1252.52) scale(1,1.042)" font-size="35.8" font-weight="bold" text-anchor="end">10</text>
<path d="M828.5,1334.6H843.9" stroke="#000" stroke-width="3.6"/>
<text transform="translate(825.4,1347.42) scale(1,1.042)" font-size="35.8" font-weight="bold" text-anchor="end">8</text>
<path d="M828.5,1429.5H843.9" stroke="#000" stroke-width="3.6"/>
<text transform="translate(825.4,1442.32) scale(1,1.042)" font-size="35.8" font-weight="bold" text-anchor="end">6</text>
<path d="M828.5,1524.5H843.9" stroke="#000" stroke-width="3.6"/>
<text transform="translate(825.4,1537.32) scale(1,1.042)" font-size="35.8" font-weight="bold" text-anchor="end">4</text>
<path d="M828.5,1619.45H843.9" stroke="#000" stroke-width="3.6"/>
<text transform="translate(825.4,1632.27) scale(1,1.042)" font-size="35.8" font-weight="bold" text-anchor="end">2</text>
<text transform="translate(825.4,1727.22) scale(1,1.042)" font-size="35.8" font-weight="bold" text-anchor="end">0</text>
<path d="M890.9,1714.4V1729.8" stroke="#000" stroke-width="3.6"/>
<path d="M962.4,1714.4V1729.8" stroke="#000" stroke-width="3.6"/>
<path d="M1033.9,1714.4V1729.8" stroke="#000" stroke-width="3.6"/>
<path d="M1105.4,1714.4V1729.8" stroke="#000" stroke-width="3.6"/>
<path d="M1176.9,1714.4V1729.8" stroke="#000" stroke-width="3.6"/>
<path d="M1248.3,1714.4V1729.8" stroke="#000" stroke-width="3.6"/>
<text transform="translate(897.9,1767.3) rotate(-45)" font-size="36.2" font-weight="bold" text-anchor="end">Normal</text>
<text transform="translate(969.4,1767.3) rotate(-45)" font-size="36.2" font-weight="bold" text-anchor="end">KD</text>
<text transform="translate(1048.3,1759.7) rotate(-45)" font-size="36.2" font-weight="bold" text-anchor="end">BHB</text>
<text transform="translate(1119.8,1759.7) rotate(-45)" font-size="36.2" font-weight="bold" text-anchor="end">cColitis</text>
<text transform="translate(1191.3,1759.7) rotate(-45)" font-size="36.2" font-weight="bold" text-anchor="end">cColitis/KD</text>
<text transform="translate(1262.7,1759.7) rotate(-45)" font-size="36.2" font-weight="bold" text-anchor="end">cColitis/BHB</text>
<text transform="translate(766.7,1472) rotate(-90)" font-size="29.5" font-weight="bold" text-anchor="middle">A-caspase-3 (ng/g tissue)</text>
<circle cx="876.4" cy="1687.9" r="8.95" fill="#000"/>
<circle cx="882.4" cy="1682.9" r="8.95" fill="#000"/>
<circle cx="894.3" cy="1685.5" r="8.95" fill="#000"/>
<circle cx="905.9" cy="1685.5" r="8.95" fill="#000"/>
<circle cx="899.9" cy="1696.5" r="8.95" fill="#000"/>
<circle cx="888" cy="1687.9" r="8.95" fill="#000"/>
<path d="M890.9,1683V1692M878.85,1683H902.95M878.85,1692H902.95" stroke="#000" stroke-width="4.8" fill="none"/>
<path d="M867.1,1687.5H914.7" stroke="#000" stroke-width="3.3" fill="none"/>
<rect x="968.45" y="1665.45" width="17.9" height="17.9" fill="#000"/>
<rect x="946.25" y="1675.45" width="17.9" height="17.9" fill="#000"/>
<rect x="958.05" y="1678.05" width="17.9" height="17.9" fill="#000"/>
<rect x="938.45" y="1686.15" width="17.9" height="17.9" fill="#000"/>
<rect x="968.45" y="1689.85" width="17.9" height="17.9" fill="#000"/>
<rect x="955.85" y="1679.85" width="17.9" height="17.9" fill="#000"/>
<path d="M962.4,1679V1695M950.35,1679H974.45M950.35,1695H974.45" stroke="#000" stroke-width="4.8" fill="none"/>
<path d="M938.6,1687H986.2" stroke="#000" stroke-width="3.3" fill="none"/>
<path d="M1024.9,1675.45L1033.85,1693.35H1015.95Z" fill="#000"/>
<path d="M1018.9,1686.65L1027.85,1704.55H1009.95Z" fill="#000"/>
<path d="M1036.8,1681.05L1045.75,1698.95H1027.85Z" fill="#000"/>
<path d="M1048.8,1683.15L1057.75,1701.05H1039.85Z" fill="#000"/>
<path d="M1042.8,1687.95L1051.75,1705.85H1033.85Z" fill="#000"/>
<path d="M1030.8,1685.95L1039.75,1703.85H1021.85Z" fill="#000"/>
<path d="M1033.9,1688V1696M1021.85,1688H1045.95M1021.85,1696H1045.95" stroke="#000" stroke-width="4.8" fill="none"/>
<path d="M1010.1,1692H1057.7" stroke="#000" stroke-width="3.3" fill="none"/>
<path d="M1105.4,1352.85L1114.35,1334.95H1096.45Z" fill="#000"/>
<path d="M1105.4,1422.15L1114.35,1404.25H1096.45Z" fill="#000"/>
<path d="M1105.4,1443.35L1114.35,1425.45H1096.45Z" fill="#000"/>
<path d="M1090.4,1503.35L1099.35,1485.45H1081.45Z" fill="#000"/>
<path d="M1120.3,1516.55L1129.25,1498.65H1111.35Z" fill="#000"/>
<path d="M1105.4,1539.85L1114.35,1521.95H1096.45Z" fill="#000"/>
<path d="M1105.4,1384.1V1524.4M1093.35,1384.1H1117.45M1093.35,1524.4H1117.45" stroke="#000" stroke-width="4.8" fill="none"/>
<path d="M1081.6,1454.1H1129.2" stroke="#000" stroke-width="3.3" fill="none"/>
<path d="M1176.9,1478.15L1185.85,1487.1L1176.9,1496.05L1167.95,1487.1Z" fill="#000"/>
<path d="M1162,1520.95L1170.95,1529.9L1162,1538.85L1153.05,1529.9Z" fill="#000"/>
<path d="M1191.7,1538.25L1200.65,1547.2L1191.7,1556.15L1182.75,1547.2Z" fill="#000"/>
<path d="M1162,1549.65L1170.95,1558.6L1162,1567.55L1153.05,1558.6Z" fill="#000"/>
<path d="M1191.7,1572.75L1200.65,1581.7L1191.7,1590.65L1182.75,1581.7Z" fill="#000"/>
<path d="M1162,1588.15L1170.95,1597.1L1162,1606.05L1153.05,1597.1Z" fill="#000"/>
<path d="M1176.9,1511.1V1589.5M1164.85,1511.1H1188.95M1164.85,1589.5H1188.95" stroke="#000" stroke-width="4.8" fill="none"/>
<path d="M1153.1,1550H1200.7" stroke="#000" stroke-width="3.3" fill="none"/>
<circle cx="1248.3" cy="1531.6" r="9.2" fill="none" stroke="#000" stroke-width="3.3"/>
<circle cx="1248.3" cy="1576.6" r="9.2" fill="none" stroke="#000" stroke-width="3.3"/>
<circle cx="1248.3" cy="1614.3" r="9.2" fill="none" stroke="#000" stroke-width="3.3"/>
<circle cx="1248.3" cy="1650.6" r="9.2" fill="none" stroke="#000" stroke-width="3.3"/>
<circle cx="1233.2" cy="1673.4" r="9.2" fill="none" stroke="#000" stroke-width="3.3"/>
<circle cx="1263.2" cy="1673.4" r="9.2" fill="none" stroke="#000" stroke-width="3.3"/>
<path d="M1248.3,1562.6V1677.3M1236.25,1562.6H1260.35M1236.25,1677.3H1260.35" stroke="#000" stroke-width="4.8" fill="none"/>
<path d="M1224.5,1619.9H1272.1" stroke="#000" stroke-width="3.3" fill="none"/>
</g>
</svg>
</body></html>
